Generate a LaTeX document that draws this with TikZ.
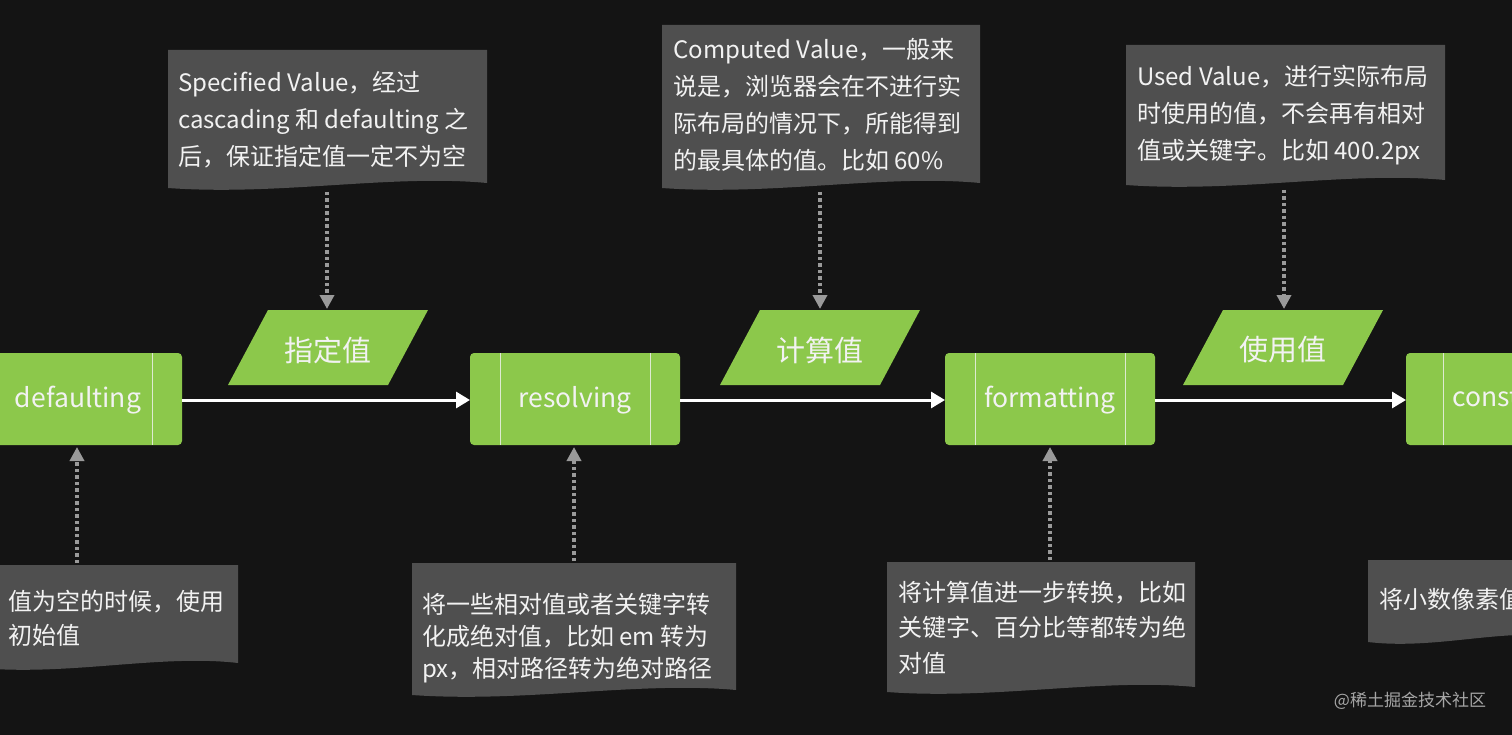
\documentclass[tikz,border=0pt]{standalone}
\usepackage{fontspec}
\setmainfont{Noto Sans CJK SC}
\usetikzlibrary{arrows.meta}
\definecolor{bg}{HTML}{141414}
\definecolor{notegray}{HTML}{4F4F4F}
\definecolor{grn}{HTML}{8CC84B}
\definecolor{txt}{HTML}{F2F2F2}
\definecolor{dotc}{HTML}{9A9A9A}
\tikzset{
  proc/.style={fill=grn,rounded corners=4pt},
  inner/.style={draw=txt!80!grn,line width=0.8pt},
  lbl/.style={text=txt,font=\fontsize{26.5}{30}\selectfont,inner sep=0pt},
  ntext/.style={text=txt,font=\fontsize{24}{37}\selectfont,align=left,anchor=north west,inner sep=0pt},
  flow/.style={draw=white,line width=3pt,-{Triangle[length=14pt,width=16pt]}},
  dots/.style={draw=dotc,line width=3.5pt,dash pattern=on 3.5pt off 3pt,-{Triangle[length=14pt,width=14pt]}},
  para/.style={fill=grn},
}
\newcommand{\wavenote}[4]{% x1 y1 x2 y2
  \fill[notegray] (#1,#2) -- (#3,#2) -- (#3,#4-3)
    .. controls ({#3-0.3*(#3-#1)},{#4-12}) and ({#1+0.35*(#3-#1)},{#4+10}) .. (#1,#4+2) -- cycle;}
\begin{document}
\begin{tikzpicture}[x=1pt,y=-1pt]
\fill[bg] (0,0) rectangle (1512,735);
\useasboundingbox (0,0) rectangle (1512,735);
\clip (0,0) rectangle (1512,735);

% process boxes
\fill[proc] (-20,353) rectangle (182,445);
\draw[inner] (152,353) -- (152,445);
\node[lbl] (def) at (78,400) {defaulting};
\fill[proc] (470,353) rectangle (680,445);
\draw[inner] (500,353) -- (500,445); \draw[inner] (650,353) -- (650,445);
\node[lbl] (res) at (575,400) {resolving};
\fill[proc] (945,353) rectangle (1155,445);
\draw[inner] (975,353) -- (975,445); \draw[inner] (1125,353) -- (1125,445);
\node[lbl] (fmt) at (1050,400) {formatting};
\fill[proc] (1406,353) rectangle (1560,445);
\draw[inner] (1443,353) -- (1443,445);
\node[lbl,anchor=west] (con) at (1452,400) {constraining};

\coordinate (defE) at (182,400); \coordinate (resW) at (470,400);
\coordinate (resE) at (680,400); \coordinate (fmtW) at (945,400);
\coordinate (fmtE) at (1155,400); \coordinate (conW) at (1406,400);
\draw[flow] (defE) -- (resW);
\draw[flow] (resE) -- (fmtW);
\draw[flow] (fmtE) -- (conW);

% parallelograms
\foreach \cx/\t/\n in {328/指定值/p1, 820/计算值/p2, 1283/使用值/p3}{
  \fill[para] (\cx-60,310) -- (\cx+100,310) -- (\cx+60,385) -- (\cx-100,385) -- cycle;
  \node[text=txt,font=\fontsize{29}{32}\selectfont,inner sep=0pt] (\n) at (\cx,350) {\t};
}

% top notes
\wavenote{168}{50}{487}{186}
\node[ntext] (n1) at (178,71) {Specified Value，经过\\cascading 和 defaulting 之\\后，保证指定值一定不为空};
\wavenote{662}{25}{980}{186}
\node[ntext] (n2) at (673,38) {Computed Value，一般来\\说是，浏览器会在不进行实\\际布局的情况下，所能得到\\的最具体的值。比如 60\%};
\wavenote{1126}{45}{1445}{183}
\node[ntext] (n3) at (1137,65) {Used Value，进行实际布局\\时使用的值，不会再有相对\\值或关键字。比如 400.2px};

\coordinate (n1b) at (327,192); \coordinate (p1t) at (327,309);
\coordinate (n2b) at (820,192); \coordinate (p2t) at (820,309);
\coordinate (n3b) at (1284,190); \coordinate (p3t) at (1284,309);
\draw[dots] (n1b) -- (p1t);
\draw[dots] (n2b) -- (p2t);
\draw[dots] (n3b) -- (p3t);

% bottom notes
\wavenote{-20}{565}{238}{666}
\node[ntext,font=\fontsize{24}{34}\selectfont] (b1) at (8,590) {值为空的时候，使用\\初始值};
\wavenote{412}{563}{736}{693}
\node[ntext,font=\fontsize{24}{32}\selectfont] (b2) at (422,593) {将一些相对值或者关键字转\\化成绝对值，比如 em 转为\\px，相对路径转为绝对路径};
\wavenote{887}{562}{1195}{690}
\node[ntext,font=\fontsize{24}{35.5}\selectfont] (b3) at (898,581) {将计算值进一步转换，比如\\关键字、百分比等都转为绝\\对值};
\wavenote{1368}{560}{1560}{640}
\node[ntext] (b4) at (1379,588) {将小数像素值};

\coordinate (b1t) at (77,563); \coordinate (defS) at (77,447);
\coordinate (b2t) at (574,561); \coordinate (resS) at (574,447);
\coordinate (b3t) at (1050,560); \coordinate (fmtS) at (1050,447);
\draw[dots] (b1t) -- (defS);
\draw[dots] (b2t) -- (resS);
\draw[dots] (b3t) -- (fmtS);

\node[text=gray!70,font=\fontsize{17}{20}\selectfont,inner sep=0pt] (wm) at (1410,701) {@稀土掘金技术社区};
\end{tikzpicture}
\end{document}
